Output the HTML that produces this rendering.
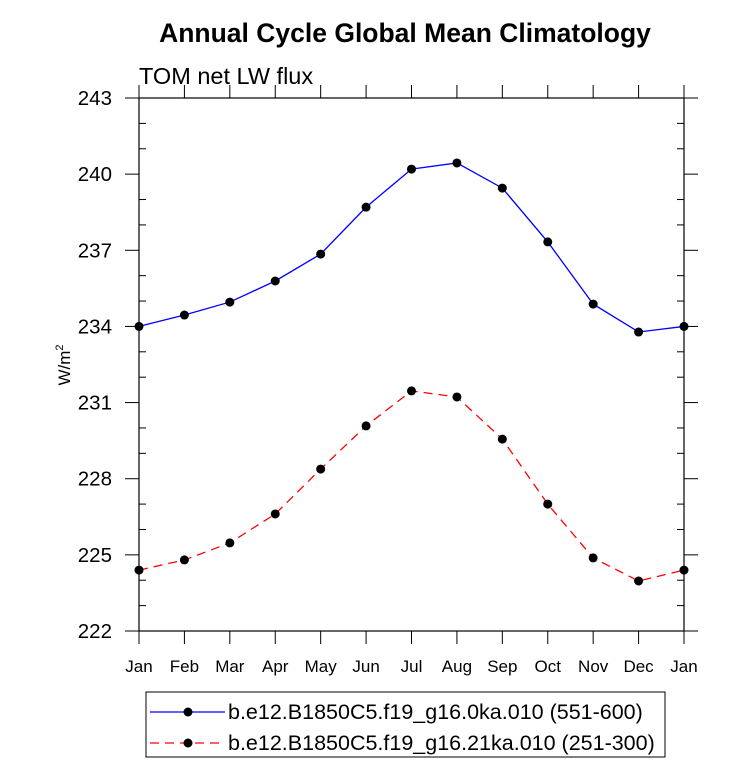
<!DOCTYPE html>
<html><head><meta charset="utf-8"><style>body{margin:0;background:#fff}svg text{font-family:"Liberation Sans",sans-serif}</style></head>
<body>
<svg id="c" width="733" height="769" xmlns="http://www.w3.org/2000/svg">
<text x="405" y="42" text-anchor="middle" font-size="26.5" font-weight="bold">Annual Cycle Global Mean Climatology</text>
<text x="139" y="84" font-size="23.5">TOM net LW flux</text>
<text transform="translate(70,365) rotate(-90)" text-anchor="middle" font-size="17">W/m<tspan font-size="11" dy="-7">2</tspan></text>
<g id="ax"></g><g id="plot"></g>
<g>
<rect x="146" y="692" width="519" height="65" fill="none" stroke="#000" stroke-width="1"/>
<g><line x1="150" y1="712" x2="225" y2="712" stroke="#0000ff" stroke-width="1.3"/><circle cx="188" cy="712" r="4.5"/><text x="228" y="719" font-size="21.5">b.e12.B1850C5.f19_g16.0ka.010 (551-600)</text></g>
<g><line x1="150" y1="743" x2="225" y2="743" stroke="#ff0000" stroke-width="1.3" stroke-dasharray="9,6"/><circle cx="188" cy="743" r="4.5"/><text x="228" y="750" font-size="21.5">b.e12.B1850C5.f19_g16.21ka.010 (251-300)</text></g>
</g>
</svg>
<script>
const months=["Jan","Feb","Mar","Apr","May","Jun","Jul","Aug","Sep","Oct","Nov","Dec","Jan"];
const blueVals=[234.0,234.45,234.96,235.79,236.85,238.7,240.2,240.44,239.45,237.33,234.88,233.78,234.0];
const redVals=[224.4,224.8,225.47,226.61,228.38,230.08,231.46,231.22,229.56,227.0,224.88,223.97,224.4];
const yTicks=[222,225,228,231,234,237,240,243];
const L=139,R=684,T=98,B=631,ymin=222,ymax=243;
const xs=i=>L+i*(R-L)/12, ys=v=>B-(v-ymin)/(ymax-ymin)*(B-T);
const NS="http://www.w3.org/2000/svg";
function mk(t,a,p){const e=document.createElementNS(NS,t);for(const k in a)e.setAttribute(k,a[k]);p.appendChild(e);return e;}
const ax=document.getElementById('ax'),plot=document.getElementById('plot');
const fr=mk('rect',{x:L,y:T,width:R-L,height:B-T,fill:'none',stroke:'#000','stroke-width':1.2},ax);


for(let v=ymin;v<=ymax;v++){const y=ys(v);
 if((v-ymin)%3==0){mk('line',{x1:L-14,y1:y,x2:L,y2:y,stroke:'#000'},ax);mk('line',{x1:R,y1:y,x2:R+14,y2:y,stroke:'#000'},ax);}
 else{mk('line',{x1:L,y1:y,x2:L+7,y2:y,stroke:'#000'},ax);mk('line',{x1:R-7,y1:y,x2:R,y2:y,stroke:'#000'},ax);}}
yTicks.forEach(v=>{const t=mk('text',{x:L-27,y:ys(v)+7,'text-anchor':'end','font-size':20.5},ax);t.textContent=v;
 
 });
months.forEach((m,i)=>{const x=xs(i);mk('line',{x1:x,y1:B,x2:x,y2:B+13,stroke:'#000'},ax);mk('line',{x1:x,y1:T-13,x2:x,y2:T,stroke:'#000'},ax);
 const t=mk('text',{x:x,y:B+41,'text-anchor':'middle','font-size':17},ax);t.textContent=m;
 
 });
function series(vals,col,dash,name){
 const p=mk('polyline',{points:vals.map((v,i)=>xs(i)+','+ys(v)).join(' '),fill:'none',stroke:col,'stroke-width':1.3,'stroke-dasharray':dash},plot);
 
 
 vals.forEach((v,i)=>{const c=mk('circle',{cx:xs(i),cy:ys(v),r:4.5,fill:'#000'},plot);
  
  });}
series(blueVals,'#0000ff','none','blue-series');
series(redVals,'#ff0000','9,6','red-series');
</script>
</body></html>
